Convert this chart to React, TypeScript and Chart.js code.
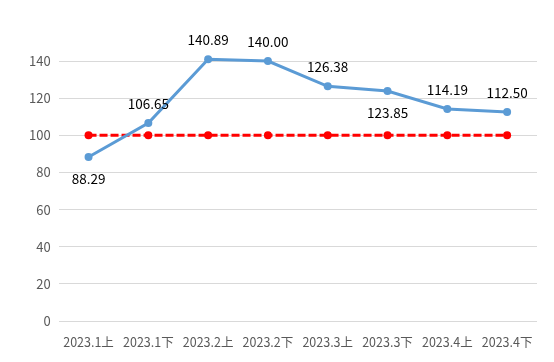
import React, { useEffect, useRef } from "react";
import { Chart, registerables } from "chart.js";

Chart.register(...registerables);

const categories = ["2023.1上", "2023.1下", "2023.2上", "2023.2下", "2023.3上", "2023.3下", "2023.4上", "2023.4下"];
const actualValues = [88.29, 106.65, 140.89, 140.0, 126.38, 123.85, 114.19, 112.5];
const baselineValues = [100, 100, 100, 100, 100, 100, 100, 100];
const labelBelow = [true, false, false, false, false, true, false, false];
const yTicks = [0, 20, 40, 60, 80, 100, 120, 140];

const FONT = "'Noto Sans CJK SC', 'Microsoft YaHei', sans-serif";

const labelPlugin = {
  id: "valueLabels",
  afterDatasetsDraw(chart: any) {
    const ctx = chart.ctx;
    const meta = chart.getDatasetMeta(0);
    ctx.save();
    ctx.font = `13.5px ${FONT}`;
    ctx.fillStyle = "#000000";
    ctx.textAlign = "center";
    ctx.textBaseline = "middle";
    meta.data.forEach((pt: any, i: number) => {
      const v = actualValues[i];
      const dy = labelBelow[i] ? 22 : -19;
      ctx.fillText(v.toFixed(2), pt.x, pt.y + dy);
    });
    ctx.restore();
  },
};

export default function App() {
  const ref = useRef<HTMLCanvasElement | null>(null);
  useEffect(() => {
    if (!ref.current) return;
    const chart = new Chart(ref.current, {
      type: "line",
      data: {
        labels: categories,
        datasets: [
          {
            data: actualValues,
            borderColor: "#5B9BD5",
            backgroundColor: "#5B9BD5",
            borderWidth: 3,
            pointRadius: 4,
            pointBorderWidth: 0,
            pointBackgroundColor: "#5B9BD5",
            tension: 0,
            clip: false as any,
            order: 1,
          },
          {
            data: baselineValues,
            borderColor: "#FF0000",
            backgroundColor: "#FF0000",
            borderWidth: 3,
            borderDash: [8, 3],
            pointRadius: 4,
            pointBorderWidth: 0,
            pointBackgroundColor: "#FF0000",
            tension: 0,
            order: 2,
          },
        ],
      },
      options: {
        animation: false,
        responsive: false,
        maintainAspectRatio: false,
        layout: { padding: { top: 61, right: 17, bottom: 6, left: 21 } },
        plugins: { legend: { display: false }, tooltip: { enabled: false } },
        scales: {
          x: {
            offset: true,
            grid: { display: false },
            border: { display: false },
            ticks: { color: "#595959", font: { family: FONT, size: 12.5 }, maxRotation: 0, autoSkip: false, padding: 6 },
          },
          y: {
            min: 0,
            max: 140,
            afterBuildTicks: (axis: any) => {
              axis.ticks = yTicks.map((v) => ({ value: v }));
            },
            grid: { color: "#D9D9D9", lineWidth: 1, drawTicks: false },
            border: { display: false },
            ticks: { color: "#595959", font: { family: FONT, size: 13 }, padding: 8 },
          },
        },
      },
      plugins: [labelPlugin],
    });
    return () => chart.destroy();
  }, []);
  return (
    <div style={{ position: "fixed", left: 0, top: 0, width: 554, height: 362, background: "#fff" }}>
      <canvas ref={ref} width={554} height={362} style={{ width: 554, height: 362 }} />
    </div>
  );
}
